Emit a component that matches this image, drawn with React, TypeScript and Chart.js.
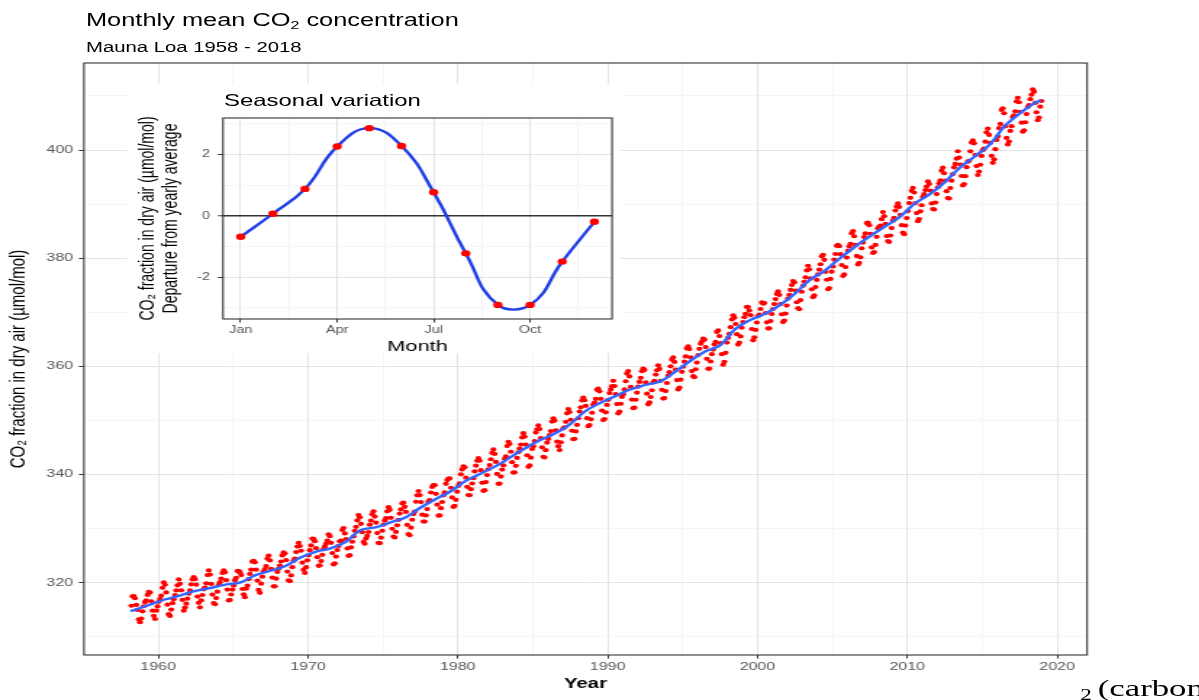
import React, { useEffect, useRef } from "react";
import { Chart, registerables } from "chart.js";

Chart.register(...registerables);

// The reference picture is stretched horizontally; we lay out in unstretched units and scale.
const STRETCH = 1.45;
const PAGE_W = 827;
const PAGE_H = 700;
const SANS = "'Liberation Sans', Arial, Helvetica, sans-serif";

// ---------- Main chart data: monthly mean CO2 (ppm), rows = years Jan..Dec ----------
const firstYear = 1958;
const co2_1958_1969: (number | null)[][] = [
  [null, null, 315.71, 317.45, 317.5, 317.1, 315.86, 314.93, 313.2, 312.66, 313.33, 314.67],
  [315.62, 316.38, 316.71, 317.72, 318.29, 318.15, 316.54, 314.8, 313.84, 313.26, 314.8, 315.58],
  [316.43, 316.97, 317.58, 319.02, 320.03, 319.59, 318.18, 315.91, 314.16, 313.83, 315.0, 316.19],
  [316.93, 317.7, 318.54, 319.48, 320.58, 319.77, 318.57, 316.79, 314.8, 315.38, 316.1, 317.01],
  [317.94, 318.55, 319.68, 320.57, 321.02, 320.62, 319.61, 317.4, 316.25, 315.42, 316.69, 317.7],
  [318.74, 319.07, 319.86, 321.38, 322.25, 321.48, 319.74, 317.77, 316.21, 315.99, 317.12, 318.31],
  [319.57, 320.07, 320.73, 321.77, 322.25, 321.89, 320.44, 318.7, 316.7, 316.79, 317.79, 318.71],
  [319.44, 320.44, 320.89, 322.13, 322.16, 321.87, 321.39, 318.81, 317.81, 317.3, 318.87, 319.42],
  [320.62, 321.59, 322.39, 323.87, 324.01, 323.75, 322.39, 320.37, 318.64, 318.1, 319.79, 321.08],
  [322.07, 322.5, 323.04, 324.42, 325.0, 324.09, 322.55, 320.92, 319.31, 319.31, 320.72, 321.96],
  [322.57, 323.15, 323.89, 325.02, 325.57, 325.36, 324.14, 322.03, 320.41, 320.25, 321.31, 322.84],
  [324.0, 324.42, 325.64, 326.66, 327.34, 326.76, 325.88, 323.67, 322.38, 321.78, 322.85, 324.11],
];
const co2_1970_1979: (number | null)[][] = [
  [325.03, 325.99, 326.87, 328.13, 328.07, 327.66, 326.35, 324.69, 323.1, 323.16, 323.98, 325.13],
  [326.17, 326.68, 327.18, 327.78, 328.92, 328.57, 327.34, 325.46, 323.36, 323.57, 324.8, 326.01],
  [326.77, 327.63, 327.75, 329.72, 330.07, 329.09, 328.05, 326.32, 324.93, 325.06, 326.5, 327.55],
  [328.54, 329.56, 330.3, 331.5, 332.48, 332.07, 330.87, 329.31, 327.51, 327.18, 328.16, 328.64],
  [329.35, 330.71, 331.48, 332.65, 333.19, 332.2, 331.07, 329.15, 327.33, 327.28, 328.31, 329.58],
  [330.73, 331.46, 331.9, 333.17, 333.94, 333.45, 331.97, 329.95, 328.5, 328.34, 329.37, 330.58],
  [331.59, 332.75, 333.52, 334.64, 334.77, 334.0, 333.06, 330.68, 328.95, 328.75, 330.15, 331.62],
  [332.66, 333.13, 334.95, 336.13, 336.93, 336.17, 334.88, 332.56, 331.29, 331.27, 332.41, 333.6],
  [334.95, 335.25, 336.66, 337.69, 338.03, 338.01, 336.41, 334.41, 332.37, 332.41, 333.75, 334.9],
  [336.14, 336.69, 338.27, 338.95, 339.21, 339.26, 337.54, 335.75, 333.98, 334.19, 335.31, 336.81],
];
const co2_1980_1989: (number | null)[][] = [
  [337.9, 338.34, 340.01, 340.93, 341.48, 341.33, 339.4, 337.7, 336.19, 336.15, 337.27, 338.32],
  [339.29, 340.55, 341.61, 342.53, 343.03, 342.54, 340.78, 338.44, 336.95, 337.08, 338.58, 339.88],
  [340.96, 341.73, 342.81, 343.97, 344.63, 343.79, 342.32, 340.09, 338.28, 338.29, 339.6, 340.9],
  [341.68, 342.9, 343.33, 345.25, 346.03, 345.63, 344.19, 342.27, 340.35, 340.38, 341.59, 343.05],
  [344.1, 344.79, 345.52, 346.84, 347.63, 346.98, 345.53, 343.55, 341.4, 341.67, 343.1, 344.7],
  [345.21, 346.16, 347.74, 348.34, 349.06, 348.38, 346.72, 345.02, 343.27, 343.13, 344.49, 345.88],
  [346.56, 347.28, 348.01, 349.77, 350.38, 349.93, 348.16, 346.08, 345.22, 344.51, 345.93, 347.22],
  [348.52, 348.73, 349.73, 351.31, 352.09, 351.53, 350.11, 348.08, 346.52, 346.59, 347.96, 349.16],
  [350.39, 351.64, 352.41, 353.69, 354.21, 353.72, 352.69, 350.4, 348.92, 349.13, 350.2, 351.41],
  [352.91, 353.27, 353.96, 355.64, 355.86, 355.37, 353.99, 351.81, 350.05, 350.25, 351.49, 352.85],
];
const co2_1990_1999: (number | null)[][] = [
  [353.8, 355.04, 355.73, 356.32, 357.32, 356.34, 354.84, 353.01, 351.31, 351.62, 353.07, 354.33],
  [354.84, 355.73, 357.23, 358.66, 359.13, 358.13, 356.19, 353.85, 352.25, 352.35, 353.81, 355.12],
  [356.25, 357.11, 357.86, 359.09, 359.59, 359.33, 357.01, 354.94, 352.96, 353.32, 354.32, 355.57],
  [357.0, 357.31, 358.47, 359.27, 360.19, 359.52, 357.33, 355.64, 354.03, 354.12, 355.41, 356.91],
  [358.24, 358.92, 359.99, 361.23, 361.65, 360.81, 359.38, 357.46, 355.73, 356.08, 357.53, 358.98],
  [359.92, 360.86, 361.83, 363.3, 363.69, 363.19, 361.64, 359.12, 358.17, 357.99, 359.45, 360.68],
  [362.07, 363.24, 364.17, 364.57, 365.13, 364.92, 363.55, 361.38, 359.54, 359.58, 360.89, 362.24],
  [363.09, 364.03, 364.51, 366.35, 366.64, 365.59, 364.31, 362.25, 360.29, 360.82, 362.49, 364.38],
  [365.26, 365.98, 367.24, 368.66, 369.42, 368.99, 367.82, 365.95, 364.02, 364.4, 365.52, 367.13],
  [368.18, 369.07, 369.68, 370.99, 370.96, 370.3, 369.45, 366.9, 364.81, 365.37, 366.72, 368.1],
];
const co2_2000_2009: (number | null)[][] = [
  [369.29, 369.55, 370.6, 371.82, 371.58, 371.7, 369.86, 368.13, 367.0, 367.03, 368.37, 369.67],
  [370.59, 371.51, 372.43, 373.37, 373.85, 373.21, 371.51, 369.61, 368.18, 368.45, 369.76, 371.24],
  [372.53, 373.2, 374.12, 375.02, 375.76, 375.52, 374.01, 371.85, 370.75, 370.55, 372.25, 373.79],
  [374.88, 375.64, 376.45, 377.73, 378.6, 377.93, 376.28, 374.23, 372.78, 373.1, 374.67, 375.97],
  [377.0, 377.87, 378.88, 380.35, 380.62, 379.69, 377.47, 376.01, 374.25, 374.46, 376.16, 377.51],
  [378.46, 379.73, 380.77, 382.29, 382.45, 382.21, 380.74, 378.74, 376.7, 377.0, 378.35, 380.11],
  [381.38, 382.19, 382.67, 384.61, 385.03, 384.05, 382.46, 380.41, 378.85, 379.13, 380.15, 381.82],
  [382.89, 383.9, 384.58, 386.5, 386.56, 386.1, 384.5, 381.99, 380.96, 381.12, 382.45, 383.95],
  [385.52, 385.82, 386.03, 387.21, 388.54, 387.76, 386.36, 384.09, 383.18, 382.99, 384.19, 385.56],
  [386.94, 387.48, 388.82, 389.55, 390.14, 389.48, 388.03, 386.11, 384.74, 384.43, 386.02, 387.42],
];
const co2_2010_2018: (number | null)[][] = [
  [388.71, 390.2, 391.17, 392.46, 393.0, 392.15, 390.2, 388.35, 386.85, 387.24, 388.67, 389.79],
  [391.33, 391.86, 392.6, 393.25, 394.19, 393.74, 392.51, 390.13, 389.08, 389.0, 390.28, 391.86],
  [393.12, 393.86, 394.4, 396.18, 396.74, 395.71, 394.36, 392.39, 391.11, 391.05, 392.98, 394.34],
  [395.55, 396.8, 397.43, 398.41, 399.78, 398.6, 397.32, 395.2, 393.45, 393.7, 395.16, 396.84],
  [397.85, 398.01, 399.77, 401.38, 401.78, 401.25, 399.1, 397.03, 395.38, 396.03, 397.28, 398.91],
  [399.98, 400.28, 401.54, 403.28, 403.96, 402.8, 401.31, 398.93, 397.63, 398.29, 400.16, 401.85],
  [402.52, 404.04, 404.83, 407.42, 407.7, 406.81, 404.39, 402.25, 401.03, 401.57, 403.53, 404.42],
  [406.13, 406.42, 407.18, 409.0, 409.65, 408.84, 407.07, 405.07, 403.38, 403.64, 405.14, 406.66],
  [407.96, 408.32, 409.41, 410.24, 411.24, 410.79, 408.71, 406.99, 405.51, 406.0, 408.02, 409.07],
];

// Smoothed trend (blue line)
const trendYears = [
  1958.15, 1958.5, 1959.5, 1960.5, 1961.5, 1962.5, 1963.5, 1964.5, 1965.5, 1966.5, 1967.5, 1968.5,
  1969.5, 1970.5, 1971.5, 1972.5, 1973.5, 1974.5, 1975.5, 1976.5, 1977.5, 1978.5, 1979.5, 1980.5,
  1981.5, 1982.5, 1983.5, 1984.5, 1985.5, 1986.5, 1987.5, 1988.5, 1989.5, 1990.5, 1991.5, 1992.5,
  1993.5, 1994.5, 1995.5, 1996.5, 1997.5, 1998.5, 1999.5, 2000.5, 2001.5, 2002.5, 2003.5, 2004.5,
  2005.5, 2006.5, 2007.5, 2008.5, 2009.5, 2010.5, 2011.5, 2012.5, 2013.5, 2014.5, 2015.5, 2016.5,
  2017.5, 2018.5, 2018.9,
];
const trendValues = [
  314.7, 315.0, 315.97, 316.91, 317.64, 318.45, 318.99, 319.62, 320.04, 321.37, 322.18, 323.05,
  324.62, 325.68, 326.32, 327.46, 329.68, 330.19, 331.13, 332.03, 333.84, 335.41, 336.84, 338.76,
  340.12, 341.48, 343.15, 344.85, 346.35, 347.61, 349.31, 351.69, 353.2, 354.45, 355.7, 356.54,
  357.21, 358.96, 360.97, 362.74, 363.88, 366.84, 368.54, 369.71, 371.32, 373.45, 375.98, 377.7,
  379.98, 382.09, 384.02, 385.83, 387.64, 390.1, 391.85, 394.06, 396.74, 398.81, 401.01, 404.41,
  406.76, 408.72, 409.2,
];

const xMajorTicks = [1960, 1970, 1980, 1990, 2000, 2010, 2020];
const xMinorTicks = [1965, 1975, 1985, 1995, 2005, 2015];
const yMajorTicks = [320, 340, 360, 380, 400];
const yMinorTicks = [310, 330, 350, 370, 390, 410];

// ---------- Inset data: seasonal departure (ppm) ----------
const monthNumbers = [1, 2, 3, 4, 5, 6, 7, 8, 9, 10, 11, 12];
const seasonalDeparture = [-0.68, 0.07, 0.88, 2.26, 2.86, 2.28, 0.77, -1.22, -2.9, -2.9, -1.49, -0.19];
const insetTickMonths = [1, 4, 7, 10];
const insetTickLabels = ["Jan", "Apr", "Jul", "Oct"];
const insetMinorMonths = [2.5, 5.5, 8.5, 11.5];
const insetYMajor = [-2, 0, 2];
const insetYMinor = [-3, -1, 1, 3];

const GRID_MAJOR = "#e4e4e4";
const GRID_MINOR = "#f1f1f1";
const AXIS_DARK = "#333333";
const TICK_TEXT = "#555555";

const panelBorder = {
  id: "panelBorder",
  afterDatasetsDraw(chart: any) {
    const { ctx, chartArea } = chart;
    ctx.save();
    ctx.strokeStyle = AXIS_DARK;
    ctx.lineWidth = 1.1;
    ctx.strokeRect(chartArea.left, chartArea.top, chartArea.right - chartArea.left, chartArea.bottom - chartArea.top);
    ctx.restore();
  },
};

const whiteBackground = {
  id: "whiteBackground",
  beforeDraw(chart: any) {
    const { ctx, width, height } = chart;
    ctx.save();
    ctx.fillStyle = "#ffffff";
    ctx.fillRect(0, 0, width, height);
    ctx.restore();
  },
};

function MainChart() {
  const ref = useRef<HTMLCanvasElement | null>(null);
  useEffect(() => {
    if (!ref.current) return;
    const rows = [...co2_1958_1969, ...co2_1970_1979, ...co2_1980_1989, ...co2_1990_1999, ...co2_2000_2009, ...co2_2010_2018];
    const monthlyPoints: { x: number; y: number }[] = [];
    rows.forEach((row, i) => {
      row.forEach((v, m) => {
        if (v != null) monthlyPoints.push({ x: firstYear + i + (m + 0.5) / 12, y: v });
      });
    });
    const trendPoints = trendYears.map((x, i) => ({ x, y: trendValues[i] }));
    const xAll = [...xMajorTicks, ...xMinorTicks].sort((a, b) => a - b);
    const yAll = [...yMajorTicks, ...yMinorTicks].sort((a, b) => a - b);
    const chart = new Chart(ref.current, {
      type: "scatter",
      data: {
        datasets: [
          {
            label: "Trend",
            data: trendPoints,
            showLine: true,
            borderColor: "#3366ff",
            borderWidth: 2.4,
            pointRadius: 0,
            tension: 0.4,
            order: 0,
          } as any,
          {
            label: "Monthly mean",
            data: monthlyPoints,
            pointRadius: 2.1,
            pointBorderWidth: 0,
            backgroundColor: "#ff0000",
            borderColor: "#ff0000",
            order: 1,
          } as any,
        ],
      },
      options: {
        responsive: false,
        animation: false,
        events: [],
        layout: { padding: { top: 63, right: 77.3, left: 0, bottom: 0 } },
        plugins: { legend: { display: false }, tooltip: { enabled: false } },
        scales: {
          x: {
            type: "linear",
            min: 1955.05,
            max: 2022.0,
            afterBuildTicks: (s: any) => {
              s.ticks = xAll.map((v) => ({ value: v }));
            },
            afterFit: (s: any) => {
              s.height = 45;
            },
            border: { display: false },
            grid: {
              color: (c: any) => (c.tick && xMajorTicks.includes(c.tick.value) ? GRID_MAJOR : GRID_MINOR),
              lineWidth: (c: any) => (c.tick && xMajorTicks.includes(c.tick.value) ? 1 : 0.7),
              tickLength: 3.5,
              tickColor: (c: any) => (c.tick && xMajorTicks.includes(c.tick.value) ? AXIS_DARK : "rgba(0,0,0,0)"),
              tickWidth: 1,
            },
            ticks: {
              autoSkip: false,
              maxRotation: 0,
              padding: 2,
              color: TICK_TEXT,
              font: { family: SANS, size: 11 },
              callback: (v: any) => (xMajorTicks.includes(Number(v)) ? String(v) : ""),
            },
            title: {
              display: true,
              text: "Year",
              color: "#000",
              font: { family: SANS, size: 14, weight: "bold" },
              padding: { top: 0, bottom: 7 },
            },
          },
          y: {
            type: "linear",
            min: 306.6,
            max: 416.1,
            afterBuildTicks: (s: any) => {
              s.ticks = yAll.map((v) => ({ value: v }));
            },
            afterFit: (s: any) => {
              s.width = 57.9;
            },
            border: { display: false },
            grid: {
              color: (c: any) => (c.tick && yMajorTicks.includes(c.tick.value) ? GRID_MAJOR : GRID_MINOR),
              lineWidth: (c: any) => (c.tick && yMajorTicks.includes(c.tick.value) ? 1 : 0.7),
              tickLength: 3.5,
              tickColor: (c: any) => (c.tick && yMajorTicks.includes(c.tick.value) ? AXIS_DARK : "rgba(0,0,0,0)"),
              tickWidth: 1,
            },
            ticks: {
              autoSkip: false,
              padding: 4,
              color: TICK_TEXT,
              font: { family: SANS, size: 11 },
              callback: (v: any) => (yMajorTicks.includes(Number(v)) ? String(v) : ""),
            },
            title: {
              display: true,
              text: "CO\u2082 fraction in dry air (\u00b5mol/mol)",
              color: "#000",
              font: { family: SANS, size: 15 },
              padding: { top: 3.6, bottom: 0 },
            },
          },
        },
      },
      plugins: [panelBorder],
    } as any);
    return () => chart.destroy();
  }, []);
  return (
    <canvas
      ref={ref}
      width={PAGE_W}
      height={PAGE_H}
      style={{ position: "absolute", left: 0, top: 0, width: PAGE_W, height: PAGE_H }}
    />
  );
}

const INSET_LEFT = 88;
const INSET_TOP = 84;
const INSET_W = 340;
const INSET_H = 269;

function InsetChart() {
  const ref = useRef<HTMLCanvasElement | null>(null);
  useEffect(() => {
    if (!ref.current) return;
    const pts = monthNumbers.map((m, i) => ({ x: m, y: seasonalDeparture[i] }));
    const xAll = [...insetTickMonths, ...insetMinorMonths].sort((a, b) => a - b);
    const yAll = [...insetYMajor, ...insetYMinor].sort((a, b) => a - b);
    const chart = new Chart(ref.current, {
      type: "scatter",
      data: {
        datasets: [
          {
            label: "Seasonal curve",
            data: pts,
            showLine: true,
            borderColor: "#1f3fe6",
            borderWidth: 2.4,
            pointRadius: 0,
            tension: 0.45,
            order: 1,
          } as any,
          {
            label: "Monthly departure",
            data: pts,
            pointRadius: 3.2,
            pointBorderWidth: 0,
            backgroundColor: "#ff0000",
            borderColor: "#ff0000",
            order: 0,
          } as any,
        ],
      },
      options: {
        responsive: false,
        animation: false,
        events: [],
        layout: { padding: { top: 34, right: 5.9, left: 0, bottom: 0 } },
        plugins: { legend: { display: false }, tooltip: { enabled: false } },
        scales: {
          x: {
            type: "linear",
            min: 0.45,
            max: 12.55,
            afterBuildTicks: (s: any) => {
              s.ticks = xAll.map((v) => ({ value: v }));
            },
            afterFit: (s: any) => {
              s.height = 34;
            },
            border: { display: false },
            grid: {
              color: (c: any) => (c.tick && insetTickMonths.includes(c.tick.value) ? GRID_MAJOR : GRID_MINOR),
              lineWidth: (c: any) => (c.tick && insetTickMonths.includes(c.tick.value) ? 1 : 0.7),
              tickLength: 3.5,
              tickColor: (c: any) => (c.tick && insetTickMonths.includes(c.tick.value) ? AXIS_DARK : "rgba(0,0,0,0)"),
              tickWidth: 1,
            },
            ticks: {
              autoSkip: false,
              maxRotation: 0,
              padding: 2,
              color: TICK_TEXT,
              font: { family: SANS, size: 10 },
              callback: (v: any) => {
                const k = insetTickMonths.indexOf(Number(v));
                return k >= 0 ? insetTickLabels[k] : "";
              },
            },
            title: {
              display: true,
              text: "Month",
              color: "#000",
              font: { family: SANS, size: 15, lineHeight: 0.8 },
              padding: { top: 0, bottom: 0 },
            },
          },
          y: {
            type: "linear",
            min: -3.36,
            max: 3.19,
            afterBuildTicks: (s: any) => {
              s.ticks = yAll.map((v) => ({ value: v }));
            },
            afterFit: (s: any) => {
              s.width = 65.8;
            },
            border: { display: false },
            grid: {
              color: (c: any) =>
                c.tick && c.tick.value === 0 ? AXIS_DARK : c.tick && insetYMajor.includes(c.tick.value) ? GRID_MAJOR : GRID_MINOR,
              lineWidth: (c: any) =>
                c.tick && c.tick.value === 0 ? 1.5 : c.tick && insetYMajor.includes(c.tick.value) ? 1 : 0.7,
              tickLength: 3.5,
              tickColor: (c: any) => (c.tick && insetYMajor.includes(c.tick.value) ? AXIS_DARK : "rgba(0,0,0,0)"),
              tickWidth: 1,
            },
            ticks: {
              autoSkip: false,
              padding: 5.5,
              color: TICK_TEXT,
              font: { family: SANS, size: 10 },
              callback: (v: any) => (insetYMajor.includes(Number(v)) ? String(v) : ""),
            },
            title: {
              display: true,
              text: ["CO\u2082 fraction in dry air (\u00b5mol/mol)", "Departure from yearly average"],
              color: "#000",
              font: { family: SANS, size: 14, lineHeight: 1.15 },
              padding: { top: 5.95, bottom: 0 },
            },
          },
        },
      },
      plugins: [whiteBackground, panelBorder],
    } as any);
    return () => chart.destroy();
  }, []);
  return (
    <canvas
      ref={ref}
      width={INSET_W}
      height={INSET_H}
      style={{ position: "absolute", left: INSET_LEFT, top: INSET_TOP, width: INSET_W, height: INSET_H }}
    />
  );
}

function textStyle(left: number, baseline: number, size: number, extra: React.CSSProperties = {}): React.CSSProperties {
  return {
    position: "absolute",
    left,
    top: baseline - 0.8465 * size,
    fontFamily: SANS,
    fontSize: size,
    lineHeight: `${size}px`,
    color: "#000",
    whiteSpace: "nowrap",
    ...extra,
  };
}

export default function App() {
  return (
    <div
      style={{
        position: "fixed",
        left: 0,
        top: 0,
        width: 1199,
        height: 700,
        overflow: "hidden",
        background: "#ffffff",
      }}
    >
      <div
        style={{
          position: "absolute",
          left: 0,
          top: 0,
          width: PAGE_W,
          height: PAGE_H,
          transform: `scaleX(${STRETCH})`,
          transformOrigin: "0 0",
        }}
      >
        <MainChart />
        <InsetChart />
        <div style={textStyle(59.3, 27, 17.5)}>
          Monthly mean CO<sub style={{ fontSize: 11, verticalAlign: "-3px", lineHeight: 0 }}>2</sub> concentration
        </div>
        <div style={textStyle(59.3, 52, 14)}>Mauna Loa 1958 - 2018</div>
        <div style={textStyle(154.5, 106, 16.5)}>Seasonal variation</div>
        <div
          style={{
            position: "absolute",
            left: 745,
            top: 697 - 0.891 * 24,
            fontFamily: "'Liberation Serif', 'Times New Roman', serif",
            fontSize: 24,
            lineHeight: "24px",
            color: "#000",
            whiteSpace: "nowrap",
          }}
        >
          <span style={{ fontSize: 16, verticalAlign: "-4px" }}>2 </span>(carbon
        </div>
      </div>
    </div>
  );
}
